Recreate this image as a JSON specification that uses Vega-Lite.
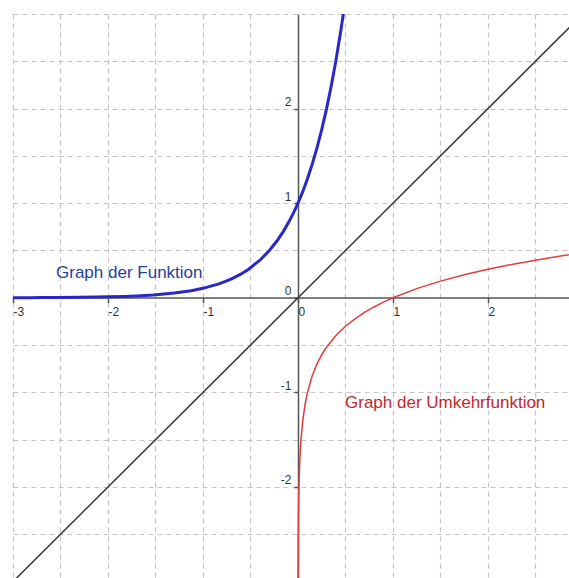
{
  "$schema": "https://vega.github.io/schema/vega-lite/v6.json",
  "width": 556,
  "height": 564,
  "autosize": "none",
  "padding": {"left": 13, "top": 14, "right": 0, "bottom": 0},
  "background": "white",
  "config": {"view": {"stroke": null}, "font": "Liberation Sans"},
  "resolve": {"axis": {"x": "independent", "y": "independent"}},
  "datasets": {
    "curves": [
      {"series": "identity", "x": -3.2, "y": -3.2},
      {"series": "identity", "x": 3.2, "y": 3.2},
      {"series": "exp", "x": -3.2, "y": 0.00063},
      {"series": "exp", "x": -3, "y": 0.001},
      {"series": "exp", "x": -2.824, "y": 0.0015},
      {"series": "exp", "x": -2.699, "y": 0.002},
      {"series": "exp", "x": -2.523, "y": 0.003},
      {"series": "exp", "x": -2.301, "y": 0.005},
      {"series": "exp", "x": -2.125, "y": 0.0075},
      {"series": "exp", "x": -2, "y": 0.01},
      {"series": "exp", "x": -1.824, "y": 0.015},
      {"series": "exp", "x": -1.699, "y": 0.02},
      {"series": "exp", "x": -1.523, "y": 0.03},
      {"series": "exp", "x": -1.301, "y": 0.05},
      {"series": "exp", "x": -1.125, "y": 0.075},
      {"series": "exp", "x": -1, "y": 0.1},
      {"series": "exp", "x": -0.824, "y": 0.15},
      {"series": "exp", "x": -0.699, "y": 0.2},
      {"series": "exp", "x": -0.602, "y": 0.25},
      {"series": "exp", "x": -0.523, "y": 0.3},
      {"series": "exp", "x": -0.398, "y": 0.4},
      {"series": "exp", "x": -0.301, "y": 0.5},
      {"series": "exp", "x": -0.222, "y": 0.6},
      {"series": "exp", "x": -0.155, "y": 0.7},
      {"series": "exp", "x": -0.097, "y": 0.8},
      {"series": "exp", "x": -0.046, "y": 0.9},
      {"series": "exp", "x": 0, "y": 1},
      {"series": "exp", "x": 0.05, "y": 1.122},
      {"series": "exp", "x": 0.097, "y": 1.25},
      {"series": "exp", "x": 0.15, "y": 1.4125},
      {"series": "exp", "x": 0.2, "y": 1.5849},
      {"series": "exp", "x": 0.25, "y": 1.7783},
      {"series": "exp", "x": 0.301, "y": 2},
      {"series": "exp", "x": 0.35, "y": 2.2387},
      {"series": "exp", "x": 0.398, "y": 2.5},
      {"series": "exp", "x": 0.45, "y": 2.8184},
      {"series": "exp", "x": 0.477, "y": 3},
      {"series": "exp", "x": 0.5, "y": 3.1623},
      {"series": "log", "x": 0.00063, "y": -3.2},
      {"series": "log", "x": 0.001, "y": -3},
      {"series": "log", "x": 0.0015, "y": -2.824},
      {"series": "log", "x": 0.002, "y": -2.699},
      {"series": "log", "x": 0.003, "y": -2.523},
      {"series": "log", "x": 0.005, "y": -2.301},
      {"series": "log", "x": 0.0075, "y": -2.125},
      {"series": "log", "x": 0.01, "y": -2},
      {"series": "log", "x": 0.015, "y": -1.824},
      {"series": "log", "x": 0.02, "y": -1.699},
      {"series": "log", "x": 0.03, "y": -1.523},
      {"series": "log", "x": 0.05, "y": -1.301},
      {"series": "log", "x": 0.075, "y": -1.125},
      {"series": "log", "x": 0.1, "y": -1},
      {"series": "log", "x": 0.15, "y": -0.824},
      {"series": "log", "x": 0.2, "y": -0.699},
      {"series": "log", "x": 0.25, "y": -0.602},
      {"series": "log", "x": 0.3, "y": -0.523},
      {"series": "log", "x": 0.4, "y": -0.398},
      {"series": "log", "x": 0.5, "y": -0.301},
      {"series": "log", "x": 0.6, "y": -0.222},
      {"series": "log", "x": 0.7, "y": -0.155},
      {"series": "log", "x": 0.8, "y": -0.097},
      {"series": "log", "x": 0.9, "y": -0.046},
      {"series": "log", "x": 1, "y": 0},
      {"series": "log", "x": 1.25, "y": 0.097},
      {"series": "log", "x": 1.5, "y": 0.176},
      {"series": "log", "x": 1.75, "y": 0.243},
      {"series": "log", "x": 2, "y": 0.301},
      {"series": "log", "x": 2.25, "y": 0.352},
      {"series": "log", "x": 2.5, "y": 0.398},
      {"series": "log", "x": 2.75, "y": 0.439},
      {"series": "log", "x": 3, "y": 0.477}
    ],
    "labels": [
      {"series": "exp", "text": "Graph der Funktion", "x": -2.547, "y": 0.265},
      {"series": "log", "text": "Graph der Umkehrfunktion", "x": 0.495, "y": -1.112}
    ]
  },
  "layer": [
    {
      "data": {"name": "curves"},
      "transform": [{"filter": "datum.series === 'identity'"}],
      "mark": {"type": "line", "color": "#3a3a3a", "strokeWidth": 1.5, "clip": true},
      "encoding": {
        "x": {
          "field": "x", "type": "quantitative",
          "scale": {"domain": [-3, 2.853], "nice": false, "zero": false},
          "axis": {
            "orient": "bottom",
            "grid": true, "values": [-3, -2.5, -2, -1.5, -1, -0.5, 0.5, 1, 1.5, 2, 2.5],
            "gridColor": "#c4c4c4", "gridDash": [5, 4], "gridWidth": 1.2,
            "labels": false, "ticks": false, "domain": false, "title": null
          }
        },
        "y": {
          "field": "y", "type": "quantitative",
          "scale": {"domain": [-2.962, 3], "nice": false, "zero": false},
          "axis": {
            "orient": "left",
            "grid": true, "values": [-2.5, -2, -1.5, -1, -0.5, 0.5, 1, 1.5, 2, 2.5, 3],
            "gridColor": "#c4c4c4", "gridDash": [5, 4], "gridWidth": 1.2,
            "labels": false, "ticks": false, "domain": false, "title": null
          }
        }
      }
    },
    {
      "data": {"name": "curves"},
      "transform": [{"filter": "datum.series === 'log'"}],
      "mark": {"type": "line", "color": "#e03c3c", "strokeWidth": 1.5, "clip": true},
      "encoding": {
        "x": {
          "field": "x", "type": "quantitative",
          "axis": {
            "orient": "bottom",
            "grid": false, "values": [-3, -2, -1, 0, 1, 2], "offset": -280.4,
            "labelExpr": "toString(datum.value)",
            "domainColor": "#555555", "domainWidth": 1.5,
            "tickColor": "#555555", "tickSize": 5, "tickWidth": 1.5,
            "labelColor": "#333333", "labelFontSize": 12, "labelFont": "Liberation Sans",
            "labelAlign": "left", "labelBaseline": "top", "labelDx": 4, "labelPadding": 4,
            "labelFlush": false, "labelOverlap": false, "title": null
          }
        },
        "y": {
          "field": "y", "type": "quantitative",
          "axis": {
            "orient": "left",
            "grid": false, "values": [-3, -2, -1, 0, 1, 2], "offset": -285,
            "labelExpr": "toString(datum.value)",
            "domainColor": "#555555", "domainWidth": 1.5,
            "tickColor": "#555555", "tickSize": 4, "tickWidth": 1.5,
            "labelColor": "#333333", "labelFontSize": 12, "labelFont": "Liberation Sans",
            "labelAlign": "right", "labelBaseline": "bottom", "labelDy": -2, "labelPadding": 3,
            "labelFlush": false, "labelOverlap": false, "title": null
          }
        }
      }
    },
    {
      "data": {"name": "curves"},
      "transform": [{"filter": "datum.series === 'exp'"}],
      "mark": {"type": "line", "color": "#2828c8", "strokeWidth": 3, "clip": true},
      "encoding": {
        "x": {"field": "x", "type": "quantitative", "axis": null},
        "y": {"field": "y", "type": "quantitative", "axis": null}
      }
    },
    {
      "data": {"name": "labels"},
      "transform": [{"filter": "datum.series === 'exp'"}],
      "mark": {"type": "text", "color": "#1f3f9f", "fontSize": 17, "font": "Liberation Sans", "align": "left", "baseline": "middle"},
      "encoding": {
        "x": {"field": "x", "type": "quantitative", "axis": null},
        "y": {"field": "y", "type": "quantitative", "axis": null},
        "text": {"field": "text"}
      }
    },
    {
      "data": {"name": "labels"},
      "transform": [{"filter": "datum.series === 'log'"}],
      "mark": {"type": "text", "color": "#c0282d", "fontSize": 17, "font": "Liberation Sans", "align": "left", "baseline": "middle"},
      "encoding": {
        "x": {"field": "x", "type": "quantitative", "axis": null},
        "y": {"field": "y", "type": "quantitative", "axis": null},
        "text": {"field": "text"}
      }
    }
  ]
}
